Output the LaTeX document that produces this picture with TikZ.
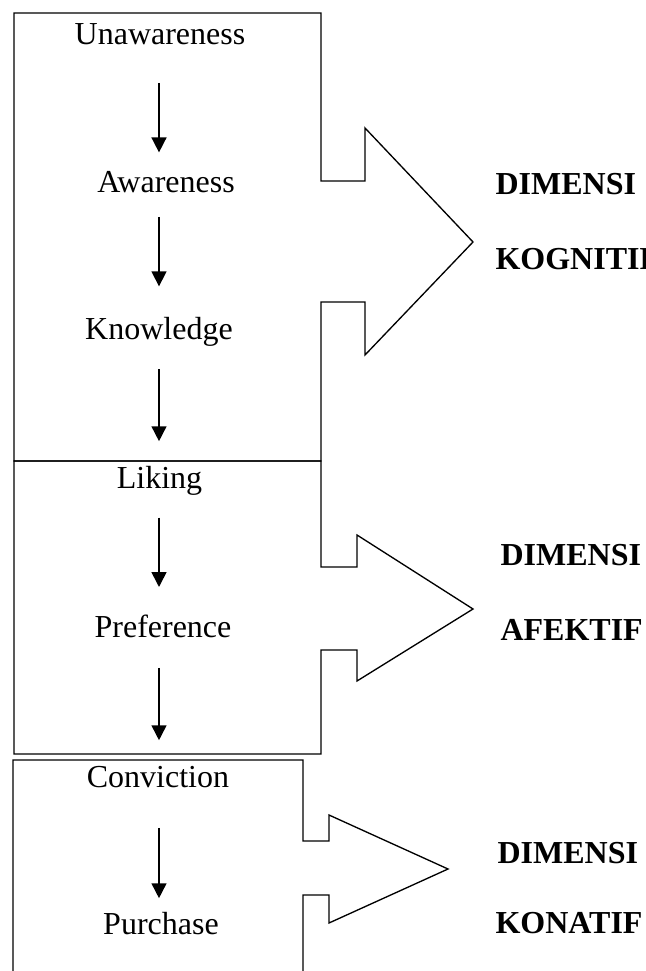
\documentclass[tikz,border=0pt]{standalone}
\usepackage{fontspec}
\setmainfont{Liberation Serif}
\usetikzlibrary{arrows.meta}

\begin{document}
\begin{tikzpicture}[
    x=0.375pt, y=-0.375pt,
    every node/.style={inner sep=0pt, anchor=base, font=\fontsize{12}{14}\selectfont},
    dim/.style={anchor=base west, font=\fontsize{12}{14}\selectfont\bfseries},
    outline/.style={draw, line width=0.5pt, line join=miter},
    flow/.style={draw, -{Triangle[width=5.6pt, length=5.6pt]}, line width=0.6pt}
]
\useasboundingbox (0,0) rectangle (645,971);

% stages
\node (unaware)  at (160,45)   {Unawareness};
\node (aware)    at (166,193)  {Awareness};
\node (know)     at (159,340)  {Knowledge};
\node (liking)   at (159.5,489) {Liking};
\node (pref)     at (163,637)  {Preference};
\node (convict)  at (158,787)  {Conviction};
\node (purchase) at (161,934)  {Purchase};

% dimensions
\node[dim] (dimkog) at (495,195) {DIMENSI};
\node[dim] (kog)    at (495,270) {KOGNITIF};
\node[dim] (dimaf)  at (500,565) {DIMENSI};
\node[dim] (af)     at (500,640) {AFEKTIF};
\node[dim] (dimkon) at (497,863) {DIMENSI};
\node[dim] (kon)    at (495,933) {KONATIF};

% boxes with block arrows
\draw[outline] (321,181) -- (365,181) -- (365,128) -- (473,242) -- (365,355)
    -- (365,302) -- (321,302) -- (321,461) -- (14,461) -- (14,13) -- (321,13) -- cycle;
\draw[outline] (321,567) -- (357,567) -- (357,535) -- (473,609) -- (357,681)
    -- (357,650) -- (321,650) -- (321,754) -- (14,754) -- (14,461) -- (321,461) -- cycle;
\draw[outline] (13,990) -- (13,760) -- (303,760) -- (303,841) -- (329,841) -- (329,815)
    -- (448,869) -- (329,923) -- (329,895) -- (303,895) -- (303,990);

% flow between stages
\coordinate (axis) at (159,0);
\foreach \a/\b/\s/\e in {unaware/aware/13.9/7.1, aware/know/8.6/11.6, know/liking/8.2/9.4,
    liking/pref/7.9/10.1, pref/convict/11.3/9.4, convict/purchase/15/4.9}
    \draw[flow, shorten <=\s pt, shorten >=\e pt] (\a.south -| axis) -- (\b.north -| axis);
\end{tikzpicture}
\end{document}
